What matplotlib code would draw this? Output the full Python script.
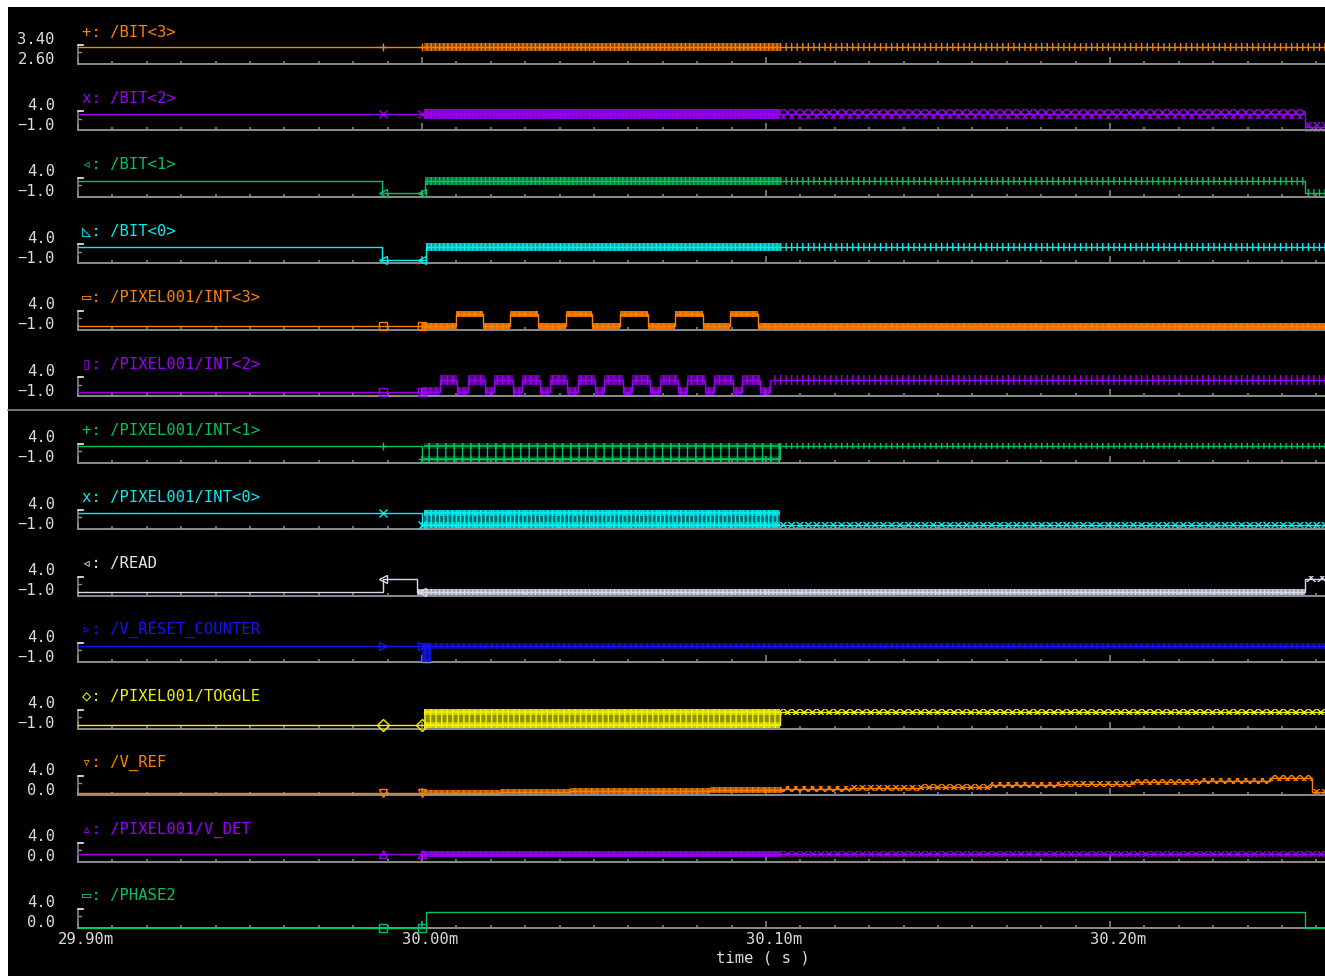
import matplotlib
matplotlib.use('Agg')
import matplotlib.pyplot as plt
from matplotlib.patches import Rectangle
from matplotlib.lines import Line2D
from matplotlib.ticker import MultipleLocator
from matplotlib.colors import to_rgba
from matplotlib.transforms import ScaledTranslation
import numpy as np

plt.rcParams['font.family'] = ['DejaVu Sans Mono', 'DejaVu Sans']
plt.rcParams['hatch.linewidth'] = 1.0

W, H, DPI = 1325, 976, 100

# time window (ms) and common sample points before the count phase
T_START, T_END = 29.90, 30.2625
SAMPLES = [29.9888, 30.0000]
XTICKS = [29.90, 30.00, 30.10, 30.20]
XTICK_LABELS = ['29.90m', '30.00m', '30.10m', '30.20m']

NAMES = ['/BIT<3>', '/BIT<2>', '/BIT<1>', '/BIT<0>',
         '/PIXEL001/INT<3>', '/PIXEL001/INT<2>', '/PIXEL001/INT<1>', '/PIXEL001/INT<0>',
         '/READ', '/V_RESET_COUNTER', '/PIXEL001/TOGGLE', '/V_REF', '/PIXEL001/V_DET', '/PHASE2']
Y_LO = [2.60, -1.0, -1.0, -1.0, -1.0, -1.0, -1.0, -1.0, -1.0, -1.0, -1.0, 0.0, 0.0, 0.0]
Y_HI = [3.40, 4.0, 4.0, 4.0, 4.0, 4.0, 4.0, 4.0, 4.0, 4.0, 4.0, 4.0, 4.0, 4.0]
Y_LO_TXT = ['2.60', '−1.0', '−1.0', '−1.0', '−1.0', '−1.0', '−1.0', '−1.0', '−1.0', '−1.0', '−1.0',
            '0.0', '0.0', '0.0']
Y_HI_TXT = ['3.40'] + ['4.0'] * 13

# step waveforms: change times (ms) and the value held from each time
BIT3_T = [29.90]
BIT3_V = [3.3]
BIT3_MARKS = [(30.0006, 30.1041, 'dense'), (30.1041, T_END, 'sparse')]

BIT2_T = [29.90, 30.2567]
BIT2_V = [3.3, 0.0]
BIT2_MARKS = [(30.0006, 30.1041, 'dense'), (30.1041, T_END, 'sparse')]

BIT1_T = [29.90, 29.9883, 30.0010, 30.2567]
BIT1_V = [3.3, 0.0, 3.3, 0.0]
BIT1_MARKS = [(30.0010, 30.1041, 'dense'), (30.1041, T_END, 'sparse')]

BIT0_T = [29.90, 29.9883, 30.0012]
BIT0_V = [3.3, 0.0, 3.3]
BIT0_MARKS = [(30.0012, 30.1041, 'dense'), (30.1041, T_END, 'sparse')]

INT3_T = [29.90, 30.0099, 30.0177, 30.0256, 30.0337, 30.0419, 30.0494,
          30.0576, 30.0657, 30.0735, 30.0817, 30.0895, 30.0977]
INT3_V = [0.0, 3.3, 0.0, 3.3, 0.0, 3.3, 0.0, 3.3, 0.0, 3.3, 0.0, 3.3, 0.0]
INT3_MARKS = [(30.0000, T_END, 'dense')]

INT2_T = [29.90, 30.0052, 30.0103, 30.0133, 30.0183, 30.0210, 30.0264, 30.0292, 30.0342,
          30.0372, 30.0422, 30.0453, 30.0503, 30.0530, 30.0583, 30.0611, 30.0662,
          30.0693, 30.0743, 30.0770, 30.0823, 30.0850, 30.0903, 30.0931, 30.0982, 30.1013]
INT2_V = [0.0, 3.3, 0.0, 3.3, 0.0, 3.3, 0.0, 3.3, 0.0, 3.3, 0.0, 3.3, 0.0,
          3.3, 0.0, 3.3, 0.0, 3.3, 0.0, 3.3, 0.0, 3.3, 0.0, 3.3, 0.0, 3.3]
INT2_MARKS = [(30.0000, 30.1013, 'dense'), (30.1013, T_END, 'sparse')]

INT1_T = [29.90, 30.0000, 30.1041]
INT1_V = [3.3, 0.0, 3.3]
INT1_BUSY = [(30.0006, 30.1041, 0.0, 3.3)]
INT1_MARKS = [(30.1041, T_END, 'sparse')]

INT0_T = [29.90, 30.0000]
INT0_V = [3.3, 0.0]
INT0_BUSY = [(30.0006, 30.1041, 0.0, 3.3)]
INT0_MARKS = [(30.1041, T_END, 'sparse')]

READ_T = [29.90, 29.9888, 29.9985, 30.2567]
READ_V = [0.0, 3.3, 0.0, 3.3]
READ_MARKS = [(29.9985, 30.2567, 'dense'), (30.2567, T_END, 'sparse')]

VRST_T = [29.90]
VRST_V = [3.3]
VRST_BUSY = [(30.0000, 30.0025, -0.8, 3.3)]
VRST_MARKS = [(30.0006, T_END, 'dense')]

TOGGLE_T = [29.90, 30.1041]
TOGGLE_V = [0.0, 3.3]
TOGGLE_BUSY = [(30.0006, 30.1041, 0.0, 3.3)]
TOGGLE_MARKS = [(30.1041, T_END, 'sparse')]

VREF_T = [29.90, 30.0023, 30.0227, 30.0430, 30.0634, 30.0837, 30.1047, 30.1244,
          30.1451, 30.1654, 30.1855, 30.2061, 30.2262, 30.2465, 30.2587]
VREF_V = [0.45, 0.5, 0.6, 0.75, 0.9, 1.1, 1.3, 1.55, 1.8, 2.05, 2.35, 2.7, 3.05, 3.5, 0.6]
VREF_MARKS = [(30.0000, 30.1047, 'dense'), (30.1047, T_END, 'sparse')]

VDET_T = [29.90]
VDET_V = [1.5]
VDET_MARKS = [(30.0000, 30.1041, 'dense'), (30.1041, T_END, 'sparse')]

PH2_T = [29.90, 30.0012, 30.2567]
PH2_V = [0.0, 3.3, 0.0]

ORANGE, PURPLE, GREEN, CYAN = '#ff8000', '#9a00f2', '#00c462', '#00f0f0'
WHITE, BLUE, YELLOW = '#d4dcec', '#1414f0', '#f2f200'

SIGNALS = [
    dict(t=BIT3_T, v=BIT3_V, marks=BIT3_MARKS, busy=[]),
    dict(t=BIT2_T, v=BIT2_V, marks=BIT2_MARKS, busy=[]),
    dict(t=BIT1_T, v=BIT1_V, marks=BIT1_MARKS, busy=[]),
    dict(t=BIT0_T, v=BIT0_V, marks=BIT0_MARKS, busy=[]),
    dict(t=INT3_T, v=INT3_V, marks=INT3_MARKS, busy=[]),
    dict(t=INT2_T, v=INT2_V, marks=INT2_MARKS, busy=[]),
    dict(t=INT1_T, v=INT1_V, marks=INT1_MARKS, busy=INT1_BUSY),
    dict(t=INT0_T, v=INT0_V, marks=INT0_MARKS, busy=INT0_BUSY),
    dict(t=READ_T, v=READ_V, marks=READ_MARKS, busy=[]),
    dict(t=VRST_T, v=VRST_V, marks=VRST_MARKS, busy=VRST_BUSY),
    dict(t=TOGGLE_T, v=TOGGLE_V, marks=TOGGLE_MARKS, busy=TOGGLE_BUSY),
    dict(t=VREF_T, v=VREF_V, marks=VREF_MARKS, busy=[]),
    dict(t=VDET_T, v=VDET_V, marks=VDET_MARKS, busy=[]),
    dict(t=PH2_T, v=PH2_V, marks=[], busy=[]),
]

# per-trace look: colour, legend glyph, marker, trail half-height (px), hatches
STYLES = [
    dict(c=ORANGE, g='+', m='+', pad=4, dh='||||', da=0.55, sh='|||', bh='', ba=0),
    dict(c=PURPLE, g='x', m='x', pad=5, dh='||||', da=0.85, sh='xxxx', bh='', ba=0),
    dict(c=GREEN, g='◃', m='<', pad=4, dh='||||', da=0.6, sh='|||', bh='', ba=0),
    dict(c=CYAN, g='◺', m='<', pad=4, dh='||||', da=0.7, sh='|||', bh='', ba=0),
    dict(c=ORANGE, g='▭', m='s', pad=3, dh='|||', da=0.85, sh='|||', bh='', ba=0),
    dict(c=PURPLE, g='▯', m='s', pad=5, dh='|||', da=0.6, sh='|||', bh='', ba=0),
    dict(c=GREEN, g='+', m='+', pad=3, dh='||', da=0.3, sh='|||', bh='||', ba=0.0),
    dict(c=CYAN, g='x', m='x', pad=3, dh='|||', da=0.45, sh='xxxx', bh='||||', ba=0.45),
    dict(c=WHITE, g='◃', m='<', pad=3, dh='||||', da=0.75, sh='xxx', bh='', ba=0),
    dict(c=BLUE, g='▹', m='>', pad=3, dh='|||', da=0.45, sh='||', bh='|||', ba=0.7),
    dict(c=YELLOW, g='◇', m='D', pad=3, dh='|||', da=0.6, sh='xxxx', bh='|||', ba=0.6),
    dict(c=ORANGE, g='▿', m='v', pad=3, dh='|||', da=0.7, sh='xxxx', bh='', ba=0),
    dict(c=PURPLE, g='▵', m='^', pad=3, dh='|||', da=0.8, sh='xxxx', bh='', ba=0),
    dict(c=GREEN, g='▭', m='s', pad=3, dh='||', da=0.5, sh='||', bh='', ba=0),
]

AX_LEFT = 78
AXIS_Y0, AXIS_STEP, STRIP_PX = 64, 66.46, 19
GRID = '#8c8c8c'
TXT = '#dcdcdc'
FS = 11.2

fig = plt.figure(figsize=(W / DPI, H / DPI), dpi=DPI, facecolor='white')
fig.patches.append(Rectangle((8 / W, 0), 1, 1 - 7 / H, transform=fig.transFigure,
                             facecolor='black', edgecolor='none', zorder=-10))
fig.lines.append(Line2D([8 / W, 1], [1 - 410 / H] * 2, transform=fig.transFigure,
                        color=GRID, lw=1.2))


def trail(ax, a, b, lo, hi, st, kind):
    span = ax.get_ylim()[1] - ax.get_ylim()[0]
    dv = st['pad'] / STRIP_PX * span
    if kind == 'dense':
        face, hatch = to_rgba(st['c'], st['da']), st['dh']
    elif kind == 'busy':
        face, hatch = to_rgba(st['c'], st['ba']), st['bh']
    else:
        face, hatch = 'none', st['sh']
    ax.add_patch(Rectangle((a, lo - dv), b - a, hi - lo + 2 * dv, facecolor=face,
                           edgecolor=st['c'], hatch=hatch, lw=0, clip_on=False, zorder=2))


for i, (name, sig, st) in enumerate(zip(NAMES, SIGNALS, STYLES)):
    y_axis = AXIS_Y0 + i * AXIS_STEP
    ax = fig.add_axes([AX_LEFT / W, 1 - y_axis / H, (W - AX_LEFT) / W, STRIP_PX / H])
    ax.set_facecolor('none')
    ax.set_xlim(T_START, T_END)
    ax.set_ylim(Y_LO[i], Y_HI[i])
    for s in ['top', 'left', 'right']:
        ax.spines[s].set_visible(False)
    ax.spines['bottom'].set_color(GRID)
    ax.spines['bottom'].set_linewidth(1.4)
    ax.yaxis.set_visible(False)
    ax.xaxis.set_major_locator(MultipleLocator(0.1))
    ax.xaxis.set_minor_locator(MultipleLocator(0.01))
    ax.tick_params(axis='x', which='both', direction='in', color=GRID, width=1.1,
                   labelbottom=False)
    ax.tick_params(axis='x', which='major', length=5)
    ax.tick_params(axis='x', which='minor', length=2.2)

    # bracket marking the value range
    ax.plot([0, 0, 5 / (W - AX_LEFT)], [0, 1, 1], transform=ax.transAxes,
            color=GRID, lw=1.1, clip_on=False)
    ax.plot([0, 3 / (W - AX_LEFT)], [0.62, 0.62], transform=ax.transAxes,
            color=GRID, lw=1.0, clip_on=False)
    ax.plot([0, 5 / (W - AX_LEFT)], [1, 1], transform=ax.transAxes,
            color='#e8e8e8', lw=1.1, clip_on=False)

    ax.annotate(Y_HI_TXT[i], xy=(0, 1), xycoords='axes fraction', xytext=(-23, 6),
                textcoords='offset pixels', ha='right', va='center', color=TXT, fontsize=FS)
    ax.annotate(Y_LO_TXT[i], xy=(0, 0), xycoords='axes fraction', xytext=(-23, 5),
                textcoords='offset pixels', ha='right', va='center', color=TXT, fontsize=FS)
    lab_c = '#e8e8e8' if st['c'] == WHITE else st['c']
    ax.annotate(f"{st['g']}: {name}", xy=(0, 0), xycoords='axes fraction', xytext=(4, 32),
                textcoords='offset pixels', ha='left', va='center', color=lab_c, fontsize=FS)

    t = list(sig['t']) + [T_END]
    v = list(sig['v']) + [sig['v'][-1]]
    ax.step(t, v, where='post', color=st['c'], lw=1.0, clip_on=False, zorder=3)

    for m0, m1, kind in sig['marks']:
        for k in range(len(sig['t'])):
            a, b = max(m0, t[k]), min(m1, t[k + 1])
            if b > a:
                trail(ax, a, b, v[k], v[k], st, kind)
    for b0, b1, lo, hi in sig['busy']:
        trail(ax, b0, b1, lo, hi, st, 'busy')
        ax.hlines([lo, hi], b0, b1, color=st['c'], lw=1.2, zorder=3)
        trail(ax, b0, b1, lo, lo, st, 'dense')
        trail(ax, b0, b1, hi, hi, st, 'dense')

    idx = np.searchsorted(sig['t'], SAMPLES, side='right') - 1
    ax.plot(SAMPLES, np.asarray(sig['v'])[idx], ls='none', marker=st['m'], ms=6,
            mfc='none', mec=st['c'], mew=1.0, clip_on=False, zorder=4)

    if i == len(NAMES) - 1:
        ax.set_xticks(XTICKS)
        ax.set_xticklabels(XTICK_LABELS)
        ax.tick_params(axis='x', which='major', labelbottom=True, labelcolor=TXT,
                       labelsize=FS, pad=3)
        shift = ScaledTranslation(8 / DPI, 0, fig.dpi_scale_trans)
        for lab in ax.get_xticklabels():
            lab.set_transform(lab.get_transform() + shift)

fig.text(763 / W, 1 - 958 / H, 'time ( s )', ha='center', va='center', color=TXT, fontsize=FS)

fig.savefig('out.png', dpi=DPI, facecolor=fig.get_facecolor())
